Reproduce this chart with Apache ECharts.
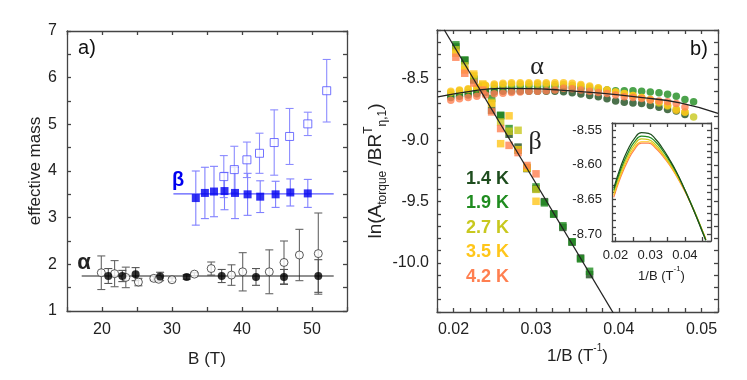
<!DOCTYPE html>
<html>
<head>
<meta charset="utf-8">
<script src="https://cdn.jsdelivr.net/npm/echarts@6/dist/echarts.min.js"></script>
<style>
  html, body { margin: 0; padding: 0; background: #fff; }
  #chart { width: 747px; height: 380px; }
</style>
</head>
<body>
<div id="chart"></div>
<script>
// ---- panel a) effective mass vs B ----
const aAlphaFilledB = [20.9, 22.9, 24.8, 28.3, 32.1, 37.1, 42.0, 46.0, 50.9];
const aAlphaFilledM = [1.75, 1.75, 1.79, 1.74, 1.73, 1.75, 1.73, 1.73, 1.75];
const aAlphaFilledErr = [0.16, 0.12, 0.14, 0.09, 0.05, 0.14, 0.18, 0.16, 0.35];

const aAlphaOpenB = [19.9, 21.8, 23.4, 25.2, 27.4, 28.1, 30.0, 33.2, 35.6, 38.5, 40.1, 43.9, 46.0, 48.2, 50.9];
const aAlphaOpenM = [1.82, 1.80, 1.72, 1.62, 1.70, 1.68, 1.67, 1.79, 1.91, 1.77, 1.84, 1.84, 2.04, 2.20, 2.23];
const aAlphaOpenErr = [0.36, 0.28, 0.22, 0.08, 0.04, 0.04, 0.04, 0.03, 0.14, 0.22, 0.41, 0.47, 0.46, 0.55, 0.87];

const aBetaFilledB = [33.4, 34.7, 36.0, 37.5, 39.0, 40.8, 42.6, 44.8, 46.9, 49.4];
const aBetaFilledM = [3.42, 3.53, 3.56, 3.57, 3.53, 3.50, 3.45, 3.50, 3.54, 3.52];
const aBetaFilledErr = [0.58, 0.55, 0.54, 0.40, 0.55, 0.45, 0.34, 0.28, 0.29, 0.30];

const aBetaOpenB = [37.4, 38.9, 40.7, 42.5, 44.6, 46.8, 49.4, 52.1];
const aBetaOpenM = [3.88, 4.03, 4.24, 4.38, 4.61, 4.74, 5.01, 5.72];
const aBetaOpenErr = [0.45, 0.50, 0.38, 0.43, 0.70, 0.60, 0.25, 0.67];

const aAlphaFitLine = [[17.1, 1.75], [53.1, 1.75]];
const aBetaFitLine = [[30.2, 3.51], [53.1, 3.51]];

// ---- panel b) ln(A/BR) vs 1/B ----
const tempLabels = ['1.4 K', '1.9 K', '2.7 K', '3.5 K', '4.2 K'];
const tempColors = ['#1e4d1e', '#1f8c1f', '#c8c81e', '#ffc61a', '#ff7f50'];

const bAlphaX = [0.01967, 0.02072, 0.02177, 0.02282, 0.02387, 0.02493, 0.02598, 0.02702, 0.02807, 0.02912,
  0.03017, 0.03122, 0.03227, 0.03331, 0.03436, 0.03541, 0.03647, 0.03752, 0.03857, 0.03961,
  0.04066, 0.04171, 0.04276, 0.04381, 0.04486, 0.04590, 0.04695, 0.04800, 0.04905];
const alpha14 = [-8.65, -8.64, -8.63, -8.62, -8.61, -8.605, -8.60, -8.60, -8.60, -8.60,
  -8.60, -8.60, -8.60, -8.604, -8.612, -8.623, -8.635, -8.645, -8.66, -8.68,
  -8.69, -8.695, -8.70, -8.715, -8.73, -8.748, -8.76, -8.79, null];
const alpha19 = [-8.63, -8.62, -8.61, -8.60, -8.585, -8.575, -8.57, -8.565, -8.56, -8.56,
  -8.56, -8.56, -8.56, -8.565, -8.57, -8.575, -8.58, -8.585, -8.59, -8.595,
  -8.595, -8.596, -8.60, -8.605, -8.612, -8.625, -8.64, -8.667, -8.686];
const alpha27 = [-8.61, -8.595, -8.585, -8.57, -8.555, -8.55, -8.545, -8.54, -8.54, -8.54,
  -8.54, -8.54, -8.545, -8.545, -8.55, -8.555, -8.565, -8.575, -8.59, -8.605,
  -8.62, -8.635, -8.65, -8.67, -8.695, -8.72, -8.745, -8.77, -8.81];
const alpha35 = [-8.60, -8.59, -8.58, -8.565, -8.55, -8.54, -8.535, -8.53, -8.53, -8.53,
  -8.53, -8.53, -8.53, -8.53, -8.535, -8.545, -8.557, -8.57, -8.59, -8.605,
  -8.617, -8.635, -8.65, -8.665, -8.686, -8.713, -8.754, -8.768, null];
const alpha42 = [-8.672, -8.66, -8.65, -8.64, -8.63, -8.62, -8.615, -8.61, -8.605, -8.60,
  -8.60, -8.595, -8.59, -8.576, -8.58, -8.59, -8.60, -8.61, -8.617, -8.63,
  -8.645, -8.65, -8.658, -8.67, -8.68, -8.686, -8.70, -8.727, null];

const bBetaX = [0.02028, 0.02136, 0.02245, 0.02353, 0.02461, 0.02570, 0.02672, 0.02781,
  0.02889, 0.02998, 0.03100, 0.03212, 0.03323, 0.03434, 0.03537, 0.03646];
const beta14 = [-8.238, -8.35, -8.508, -8.57, -8.754, -8.80, -8.95, -9.055, -9.23, -9.396, -9.50, -9.60, -9.71, -9.83, -9.96, -10.095];
const beta19 = [-8.221, -8.344, -8.50, -8.563, -8.658, -8.795, -8.904, -9.08, -9.227, -9.38, -9.51, -9.602, -9.697, -9.827, -9.967, -10.068];
const beta27 = [-8.262, -8.393, -8.475, -8.55, -8.69, -8.85, -8.926, -8.918, -9.22, -9.40, null, null, null, null, null, null];
const beta35 = [-8.289, -8.426, -8.459, -8.54, -8.70, -9.027, -8.80, -9.076, -9.227, -9.497, null, null, null, null, null, null];
const beta42 = [-8.322, -8.453, -8.533, -8.59, -8.768, -8.904, -9.041, -9.10, -9.205, -9.273, null, null, null, null, null, null];

const bBetaFit = [[0.01887, -8.098], [0.03935, -10.41]];
const bAlphaFit = [[0.0181, -8.645], [0.0220, -8.60], [0.0257, -8.576], [0.0293, -8.578], [0.0329, -8.59],
  [0.0378, -8.615], [0.0426, -8.65], [0.0474, -8.694], [0.0520, -8.78]];

// ---- inset ----
const insetX = [0.0195, 0.0215, 0.0235, 0.0255, 0.0275, 0.0295, 0.0315, 0.0335, 0.0355, 0.0375, 0.0395, 0.0415, 0.0435, 0.0455, 0.0460];
const inset14 = [-8.634, -8.603, -8.579, -8.562, -8.554, -8.555, -8.563, -8.576, -8.592, -8.610, -8.631, -8.654, -8.678, -8.703, -8.709];
const inset19 = [-8.637, -8.607, -8.584, -8.567, -8.559, -8.560, -8.567, -8.579, -8.594, -8.611, -8.631, -8.653, -8.677, -8.702, -8.709];
const inset27 = [-8.640, -8.611, -8.588, -8.571, -8.563, -8.564, -8.571, -8.583, -8.597, -8.613, -8.632, -8.653, -8.676, -8.701, -8.708];
const inset35 = [-8.644, -8.615, -8.592, -8.575, -8.567, -8.567, -8.574, -8.585, -8.599, -8.615, -8.633, -8.654, -8.677, -8.701, -8.708];
const inset42 = [-8.647, -8.618, -8.595, -8.578, -8.569, -8.569, -8.576, -8.587, -8.600, -8.616, -8.634, -8.654, -8.677, -8.701, -8.708];

const FONT = 'Liberation Sans';
const zip = (xs, ys, es) => xs.map((x, i) => es ? [x, ys[i], es[i]] : [x, ys[i]]).filter(p => p[1] !== null);

function errorBars(xs, ys, es, color) {
  return {
    type: 'custom', xAxisIndex: 0, yAxisIndex: 0, z: 1,
    data: zip(xs, ys, es),
    renderItem(params, api) {
      const x = api.value(0), y = api.value(1), e = api.value(2);
      const top = api.coord([x, y + e]);
      const bot = api.coord([x, y - e]);
      const w = 4;
      const st = { stroke: color, lineWidth: 1.1 };
      return {
        type: 'group', children: [
          { type: 'line', shape: { x1: top[0], y1: top[1], x2: bot[0], y2: bot[1] }, style: st },
          { type: 'line', shape: { x1: top[0] - w, y1: top[1], x2: top[0] + w, y2: top[1] }, style: st },
          { type: 'line', shape: { x1: bot[0] - w, y1: bot[1], x2: bot[0] + w, y2: bot[1] }, style: st }
        ]
      };
    }
  };
}

function boxAxes(gridIndex, common, isX, labelCfg, nameCfg) {
  const lineStyle = { color: '#444', width: 1.3 };
  const main = Object.assign({
    gridIndex, position: isX ? 'bottom' : 'left',
    axisLine: { show: true, onZero: false, lineStyle },
    axisTick: { show: true, inside: true, length: 4, lineStyle },
    splitLine: { show: false },
    axisLabel: labelCfg
  }, common, nameCfg || {});
  const mirror = Object.assign({
    gridIndex, position: isX ? 'top' : 'right',
    axisLine: { show: true, onZero: false, lineStyle },
    axisTick: { show: true, inside: true, length: 4, lineStyle },
    splitLine: { show: false },
    axisLabel: { show: false }
  }, common);
  if (common.tickValues) {
    main.axisTick.customValues = common.tickValues;
    mirror.axisTick.customValues = common.tickValues;
  }
  return [main, mirror];
}

const chart = echarts.init(document.getElementById('chart'));

const isMult = (v, step) => Math.abs(v / step - Math.round(v / step)) < 1e-6;

const aX = boxAxes(0, { type: 'value', min: 15, max: 55, interval: 5 }, true,
  { show: true, fontFamily: FONT, fontSize: 16, color: '#222', margin: 11,
    formatter: v => isMult(v, 10) ? String(v) : '' },
  { name: 'B (T)', nameLocation: 'middle', nameGap: 40, nameTextStyle: { fontFamily: FONT, fontSize: 17, color: '#222' } });
const aY = boxAxes(0, { type: 'value', min: 1, max: 7, interval: 0.5 }, false,
  { show: true, fontFamily: FONT, fontSize: 16, color: '#222', margin: 10,
    formatter: v => isMult(v, 1) ? String(v) : '' },
  { name: 'effective mass', nameLocation: 'middle', nameGap: 22, nameTextStyle: { fontFamily: FONT, fontSize: 17, color: '#222' } });

const bX = boxAxes(1, { type: 'value', min: 0.018, max: 0.052, interval: 0.002 }, true,
  { show: true, fontFamily: FONT, fontSize: 16, color: '#222', margin: 10,
    formatter: v => isMult(v, 0.01) ? v.toFixed(2) : '' },
  { name: '{n|1/B (T}{sup|-1}{n|)}', nameLocation: 'middle', nameGap: 31,
    nameTextStyle: { rich: {
      n: { fontFamily: FONT, fontSize: 17, color: '#222', lineHeight: 22, verticalAlign: 'bottom' },
      sup: { fontFamily: FONT, fontSize: 10, color: '#222', lineHeight: 22, verticalAlign: 'top' } } } });
const bY = boxAxes(1, { type: 'value', min: -10.4, max: -8.1, interval: 0.1 }, false,
  { show: true, fontFamily: FONT, fontSize: 16, color: '#222', margin: 8,
    formatter: v => isMult(v, 0.5) ? v.toFixed(1) : '' },
  { name: '{n|ln(A}{sub|torque}{n| /BR}{sup|T}{sub|η,1}{n|)}', nameLocation: 'middle', nameGap: 30, nameRotate: 90,
    nameTextStyle: { rich: {
      n: { fontFamily: FONT, fontSize: 19, color: '#222', lineHeight: 26, verticalAlign: 'middle' },
      sub: { fontFamily: FONT, fontSize: 12, color: '#222', lineHeight: 26, verticalAlign: 'bottom' },
      sup: { fontFamily: FONT, fontSize: 12, color: '#222', lineHeight: 26, verticalAlign: 'top' } } } });

const iX = boxAxes(2, { type: 'value', min: 0.019, max: 0.0475,
    tickValues: [0.02, 0.025, 0.03, 0.035, 0.04, 0.045] }, true,
  { show: true, fontFamily: FONT, fontSize: 13, color: '#222', margin: 8,
    customValues: [0.02, 0.03, 0.04], formatter: v => v.toFixed(2) },
  { name: '{n|1/B (T}{sup|-1}{n|)}', nameLocation: 'middle', nameGap: 24,
    nameTextStyle: { rich: {
      n: { fontFamily: FONT, fontSize: 13, color: '#222', lineHeight: 18, verticalAlign: 'bottom' },
      sup: { fontFamily: FONT, fontSize: 8, color: '#222', lineHeight: 18, verticalAlign: 'top' } } } });
const iY = boxAxes(2, { type: 'value', min: -8.71, max: -8.54, interval: 0.01 }, false,
  { show: true, fontFamily: FONT, fontSize: 13, color: '#222', margin: 10,
    formatter: v => isMult(v, 0.05) ? v.toFixed(2) : '' });

const series = [];
// panel a
series.push(errorBars(aAlphaOpenB, aAlphaOpenM, aAlphaOpenErr, '#666'));
series.push(errorBars(aAlphaFilledB, aAlphaFilledM, aAlphaFilledErr, '#555'));
series.push(errorBars(aBetaOpenB, aBetaOpenM, aBetaOpenErr, '#8c8cff'));
series.push(errorBars(aBetaFilledB, aBetaFilledM, aBetaFilledErr, '#8080ff'));
series.push({ type: 'line', xAxisIndex: 0, yAxisIndex: 0, data: aAlphaFitLine, symbol: 'none',
  lineStyle: { color: '#222', width: 1.2 }, z: 2 });
series.push({ type: 'line', xAxisIndex: 0, yAxisIndex: 0, data: aBetaFitLine, symbol: 'none',
  lineStyle: { color: '#5a5aff', width: 1.2 }, z: 2 });
series.push({ type: 'scatter', xAxisIndex: 0, yAxisIndex: 0, data: zip(aAlphaOpenB, aAlphaOpenM), symbol: 'circle', symbolSize: 8,
  itemStyle: { color: '#fff', borderColor: '#333', borderWidth: 1 }, z: 3 });
series.push({ type: 'scatter', xAxisIndex: 0, yAxisIndex: 0, data: zip(aAlphaFilledB, aAlphaFilledM), symbol: 'circle', symbolSize: 8,
  itemStyle: { color: '#000' }, z: 3 });
series.push({ type: 'scatter', xAxisIndex: 0, yAxisIndex: 0, data: zip(aBetaOpenB, aBetaOpenM), symbol: 'rect', symbolSize: 8,
  itemStyle: { color: '#fff', borderColor: '#5050ff', borderWidth: 1 }, z: 3 });
series.push({ type: 'scatter', xAxisIndex: 0, yAxisIndex: 0, data: zip(aBetaFilledB, aBetaFilledM), symbol: 'rect', symbolSize: 8,
  itemStyle: { color: '#0000f0' }, z: 3 });

// panel b
const alphaSets = [alpha14, alpha19, alpha27, alpha35, alpha42];
const betaSets = [beta14, beta19, beta27, beta35, beta42];
alphaSets.forEach((ys, i) => series.push({ type: 'scatter', xAxisIndex: 2, yAxisIndex: 2, data: zip(bAlphaX, ys),
  symbol: 'circle', symbolSize: 7.5, itemStyle: { color: tempColors[i] }, z: 2 + i * 0.1 }));
betaSets.forEach((ys, i) => series.push({ type: 'scatter', xAxisIndex: 2, yAxisIndex: 2, data: zip(bBetaX, ys),
  symbol: 'rect', symbolSize: 7.5, itemStyle: { color: tempColors[i] }, z: 2 + i * 0.1 }));
series.push({ type: 'line', xAxisIndex: 2, yAxisIndex: 2, data: bBetaFit, symbol: 'none', clip: true,
  lineStyle: { color: '#222', width: 1.3 }, z: 4 });
series.push({ type: 'line', xAxisIndex: 2, yAxisIndex: 2, data: bAlphaFit, symbol: 'none', smooth: true, clip: true,
  lineStyle: { color: '#222', width: 1.3 }, z: 4 });

// inset
[inset42, inset35, inset27, inset19, inset14].forEach((ys, k) => {
  const i = 4 - k;
  series.push({ type: 'line', xAxisIndex: 4, yAxisIndex: 4, data: zip(insetX, ys), symbol: 'none', smooth: true, clip: true,
    lineStyle: { color: tempColors[i], width: 1.2 }, z: 3 });
});

const textEl = (x, y, text, font, fill, align) => ({
  type: 'text', x, y, z: 10,
  style: { text, font, fill, textAlign: align || 'center', textVerticalAlign: 'middle' }
});

const graphic = [
  textEl(87, 48, 'a)', '20px "Liberation Sans"', '#111'),
  textEl(699, 49, 'b)', '20px "Liberation Sans"', '#111'),
  textEl(84, 263, 'α', 'bold 22px "Liberation Sans"', '#222'),
  textEl(178, 180, 'β', 'bold 20px "Liberation Sans"', '#0000f0'),
  textEl(537, 67, 'α', '26px "Liberation Serif"', '#222'),
  textEl(535, 142, 'β', '26px "Liberation Serif"', '#222')
];
tempLabels.forEach((t, i) => {
  graphic.push(textEl(466, 179 + i * 24.4, t, 'bold 18px "Liberation Sans"', tempColors[i], 'left'));
});

chart.setOption({
  animation: false,
  backgroundColor: '#fff',
  grid: [
    { left: 67, top: 31, width: 280, height: 280 },
    { left: 437, top: 30, width: 281, height: 282 },
    { left: 612, top: 123, width: 99, height: 118 }
  ],
  xAxis: [...aX, ...bX, ...iX],
  yAxis: [...aY, ...bY, ...iY],
  series,
  graphic
});
</script>
</body>
</html>
